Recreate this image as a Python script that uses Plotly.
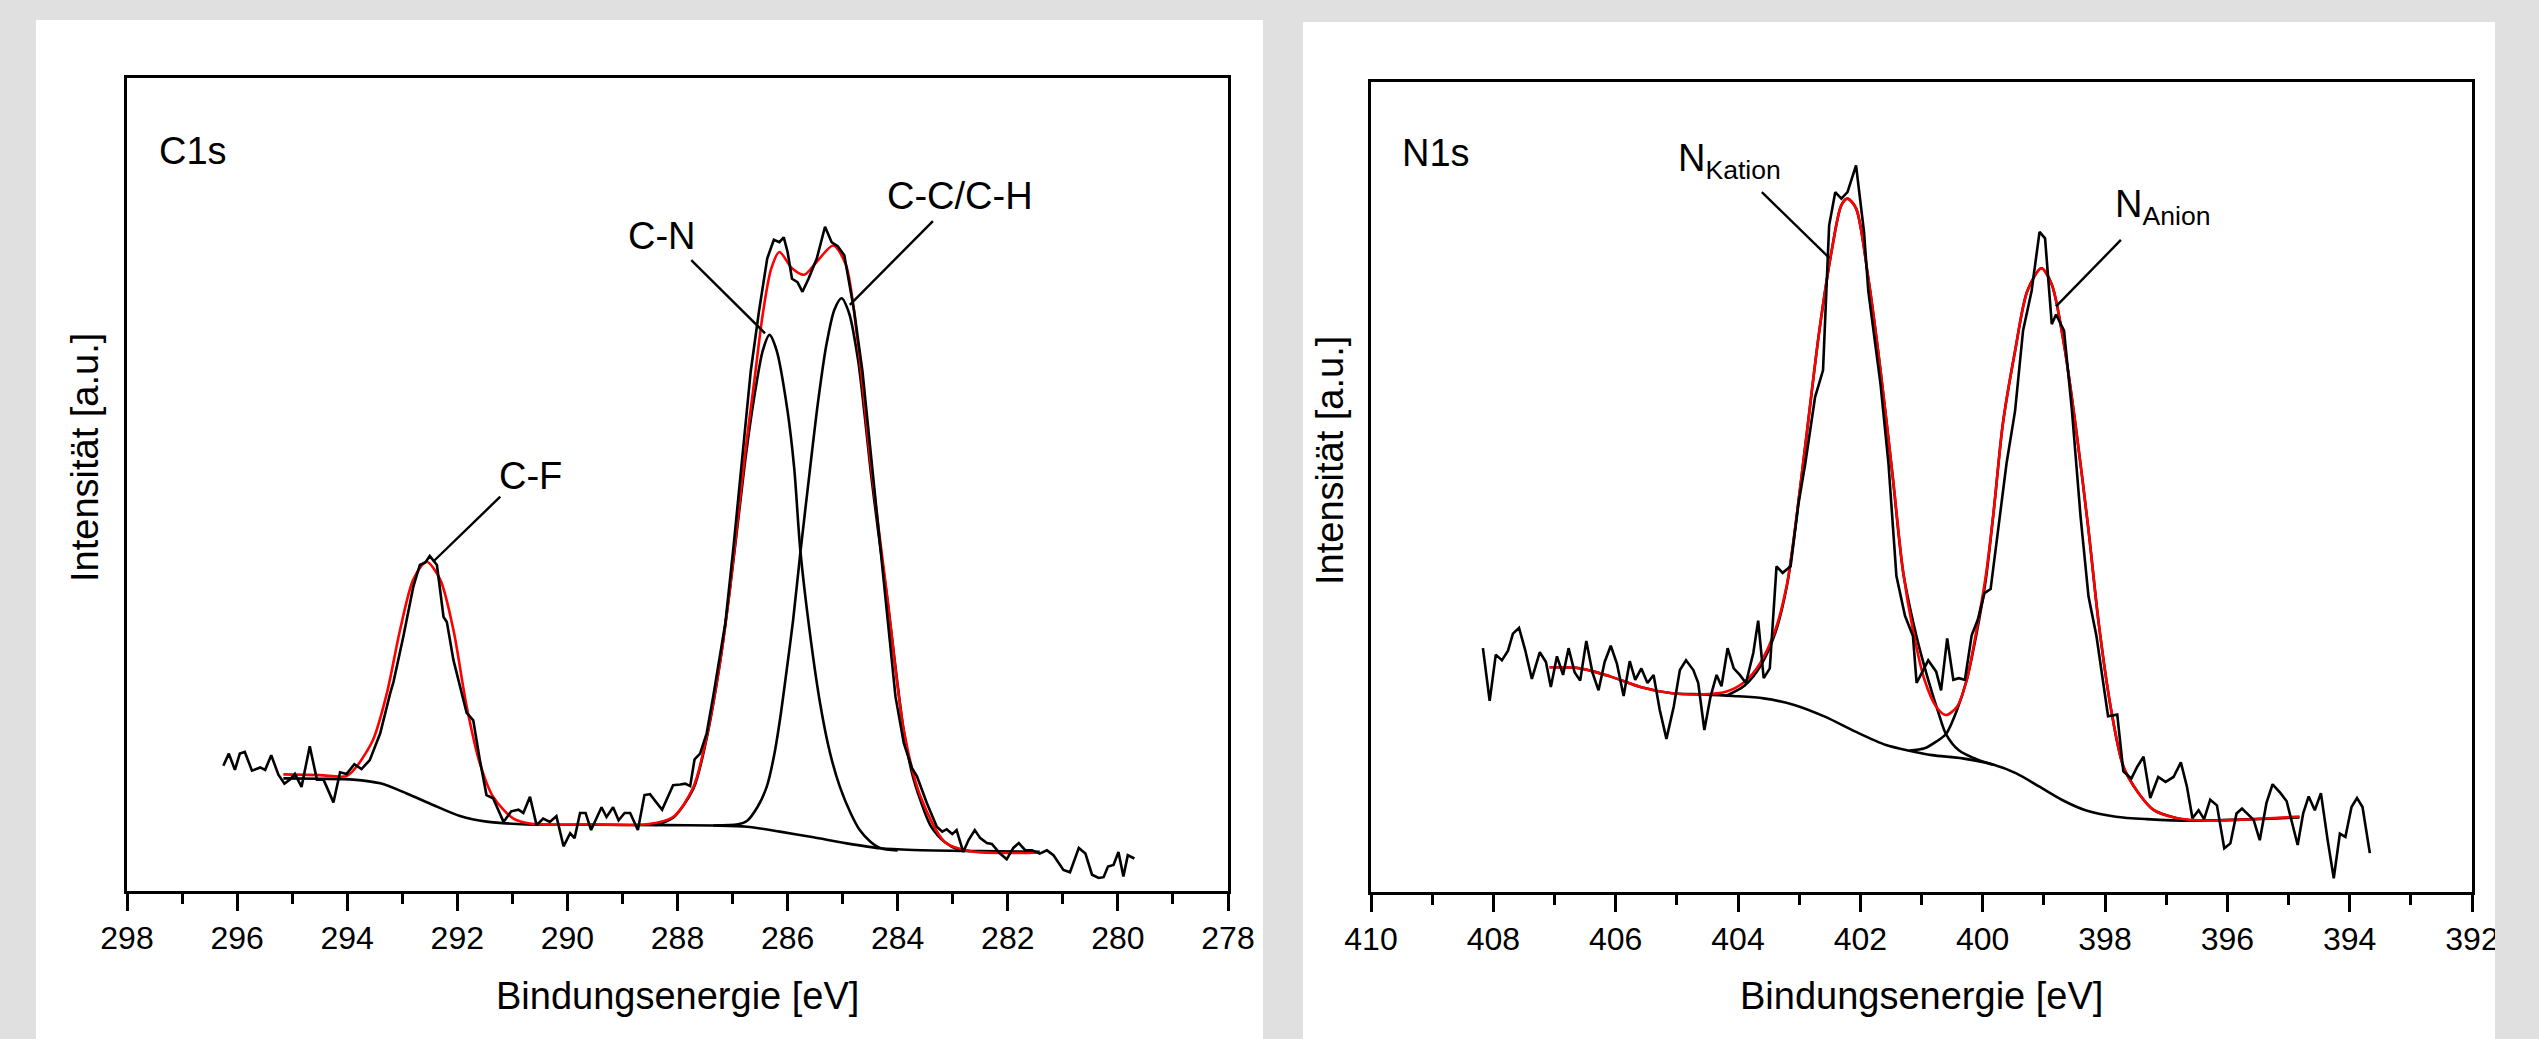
import plotly.graph_objects as go

W, H = 2539, 1039
FONT = "Liberation Sans, Arial, sans-serif"
GREY = "#e0e0e0"

# ---------------- C1s data ----------------
c1s_ticks = [298, 296, 294, 292, 290, 288, 286, 284, 282, 280, 278]
c1s_tick_text = [str(v) for v in c1s_ticks]

c1s_raw_E = [296.25, 296.15, 296.04, 295.95, 295.86, 295.73, 295.58, 295.49, 295.38, 295.25,
             295.14, 295.04, 294.95, 294.83, 294.68, 294.55, 294.43, 294.25, 294.13, 294.01,
             293.87, 293.74, 293.59, 293.40, 293.22, 293.16, 292.98, 292.80, 292.68, 292.58,
             292.50, 292.37, 292.25, 292.19, 292.07, 291.95, 291.83, 291.71, 291.59, 291.47,
             291.35, 291.16, 291.02, 290.89, 290.80, 290.68, 290.56, 290.44, 290.32, 290.20,
             290.07, 289.95, 289.87, 289.77, 289.67, 289.57, 289.38, 289.29, 289.17, 289.07,
             288.96, 288.86, 288.72, 288.60, 288.50, 288.28, 288.08, 287.95, 287.86, 287.77,
             287.69, 287.59, 287.47, 287.35, 287.23, 287.13, 286.98, 286.83, 286.67, 286.52,
             286.37, 286.25, 286.15, 286.07, 286.00, 285.92, 285.82, 285.73, 285.62, 285.47,
             285.32, 285.20, 285.09, 284.97, 284.87, 284.79, 284.64, 284.49, 284.34, 284.19,
             284.04, 283.89, 283.74, 283.65, 283.47, 283.29, 283.19, 283.11, 283.01, 282.93,
             282.81, 282.71, 282.60, 282.50, 282.38, 282.29, 282.14, 282.02, 281.90, 281.80,
             281.68, 281.56, 281.42, 281.29, 281.17, 280.99, 280.87, 280.71, 280.59, 280.47,
             280.35, 280.26, 280.18, 280.08, 279.99, 279.90, 279.82, 279.70]
c1s_raw_I = [15.4, 16.9, 14.9, 16.9, 17.1, 14.8, 15.2, 14.9, 16.7, 14.3,
             13.2, 13.7, 14.4, 12.8, 17.8, 13.7, 13.7, 10.9, 14.6, 14.4,
             15.6, 15.0, 16.1, 19.4, 24.3, 25.7, 31.3, 37.4, 40.1, 40.4,
             41.2, 40.1, 33.7, 33.1, 28.4, 25.1, 21.9, 21.0, 16.1, 11.8,
             11.4, 8.5, 9.8, 10.0, 9.6, 11.6, 8.1, 8.9, 8.5, 9.2,
             5.5, 7.1, 6.5, 9.6, 9.6, 7.5, 10.3, 9.1, 10.3, 8.7,
             9.6, 9.6, 7.5, 11.8, 11.9, 10.0, 13.0, 13.1, 13.2, 12.9,
             16.2, 16.9, 19.4, 24.0, 29.0, 33.0, 42.5, 52.5, 63.9, 71.3,
             77.8, 80.1, 79.8, 80.4, 78.6, 75.3, 74.9, 73.7, 75.3, 77.8,
             81.7, 79.8, 79.3, 78.2, 74.5, 71.3, 63.9, 54.1, 44.3, 34.5,
             23.9, 18.2, 15.1, 14.1, 10.8, 7.9, 7.3, 7.6, 7.0, 7.5,
             4.8, 6.3, 7.5, 6.5, 5.9, 5.8, 4.6, 3.9, 5.3, 5.9,
             5.0, 5.0, 4.6, 5.0, 4.4, 2.6, 2.3, 5.3, 4.6, 2.0,
             1.6, 1.7, 3.0, 3.2, 4.8, 1.8, 4.4, 4.0]

c1s_fit_E = [295.16, 294.5, 294.01, 293.83, 293.53, 293.28, 293.04, 292.80, 292.56, 292.31,
             292.07, 291.83, 291.59, 291.35, 290.98, 290.62, 289.5, 288.56, 288.08, 287.71,
             287.47, 287.23, 287.05, 286.9, 286.75, 286.6, 286.45, 286.3, 286.15, 285.92,
             285.70, 285.47, 285.17, 284.94, 284.72, 284.49, 284.19, 283.89, 283.59, 283.14,
             282.68, 281.48]
c1s_fit_I = [14.35, 14.25, 14.14, 15.3, 18.6, 24.3, 32.1, 38.3, 40.5, 38.3,
             32.1, 22.7, 15.7, 11.6, 8.9, 8.24, 8.2, 8.2, 9.1, 12.8,
             19.0, 28.0, 37.0, 46.0, 55.0, 63.0, 71.0, 76.5, 78.6, 76.6,
             75.8, 77.4, 79.4, 77.0, 67.2, 52.5, 36.2, 19.8, 11.7, 6.0,
             4.9, 4.7]

c1s_bg_E = [295.16, 294.5, 293.89, 293.4, 292.92, 292.44, 291.95, 291.47, 290.74, 289.5,
            288.2, 287.35, 286.74, 286.14, 285.53, 284.93, 284.32, 283.72, 282.5, 281.42]
c1s_bg_I = [13.85, 13.8, 13.7, 13.24, 12.0, 10.58, 9.22, 8.53, 8.2, 8.15,
            8.1, 8.05, 7.91, 7.3, 6.6, 5.86, 5.25, 5.04, 4.9, 4.83]

c1s_cn_E = [288.4, 288.08, 287.71, 287.47, 287.23, 287.05, 286.9, 286.75, 286.6, 286.45,
            286.33, 286.2, 286.0, 285.88, 285.77, 285.6, 285.41, 285.23, 285.05, 284.85,
            284.69, 284.5, 284.32, 284.0]
c1s_cn_I = [8.1, 9.0, 12.6, 18.8, 28.0, 37.0, 45.5, 54.0, 61.0, 66.5,
            68.4, 66.5, 59.0, 52.0, 42.0, 32.0, 23.1, 17.0, 12.8, 9.5,
            7.5, 6.1, 5.3, 5.0]

c1s_cc_E = [287.35, 286.9, 286.74, 286.55, 286.38, 286.25, 286.14, 286.02, 285.9, 285.77,
            285.6, 285.45, 285.3, 285.15, 285.02, 284.88, 284.72, 284.6, 284.49, 284.35,
            284.19, 284.04, 283.89, 283.74, 283.59, 283.4, 283.14, 282.9, 282.68]
c1s_cc_I = [8.05, 8.2, 8.6, 10.3, 12.8, 16.5, 21.0, 27.0, 33.3, 41.5,
            51.5, 60.0, 67.0, 71.5, 72.9, 71.0, 65.3, 58.5, 51.6, 44.0,
            36.0, 27.5, 19.7, 14.5, 11.2, 8.0, 6.0, 5.1, 4.9]

# ---------------- N1s data ----------------
n1s_ticks = [410, 408, 406, 404, 402, 400, 398, 396, 394, 392]
n1s_tick_text = [str(v) for v in n1s_ticks]

n1s_raw_E = [408.17, 408.06, 407.96, 407.86, 407.76, 407.68, 407.58, 407.48, 407.37, 407.24,
             407.14, 407.06, 406.96, 406.86, 406.77, 406.67, 406.58, 406.48, 406.38, 406.28,
             406.18, 406.08, 405.98, 405.87, 405.77, 405.68, 405.58, 405.48, 405.38, 405.28,
             405.17, 405.05, 404.95, 404.85, 404.73, 404.65, 404.55, 404.45, 404.35, 404.27,
             404.17, 404.07, 403.97, 403.87, 403.75, 403.67, 403.58, 403.48,
             403.37, 403.27, 403.14, 403.01, 402.90, 402.74, 402.61, 402.51, 402.41, 402.31,
             402.21, 402.07, 401.94, 401.87, 401.67, 401.54, 401.41, 401.27, 401.14,
             401.08, 400.89, 400.76, 400.68, 400.58, 400.48, 400.39, 400.29, 400.18, 400.08,
             399.97,
             399.87, 399.74, 399.61, 399.47, 399.34, 399.20, 399.07, 398.98, 398.87, 398.80,
             398.67, 398.54, 398.40, 398.27, 398.14,
             397.95, 397.80, 397.70, 397.57, 397.47, 397.37, 397.26, 397.13, 397.01, 396.88,
             396.76, 396.66, 396.57, 396.47, 396.38, 396.28, 396.17, 396.05, 395.95, 395.85,
             395.76, 395.66, 395.57, 395.47, 395.36, 395.26, 395.13, 395.03, 394.95, 394.85,
             394.76, 394.67, 394.57, 394.47, 394.36, 394.26, 394.16, 394.07, 393.97, 393.88,
             393.79, 393.67]
n1s_raw_I = [30.1, 23.6, 29.3, 28.6, 29.8, 31.9, 32.6, 29.9, 26.3, 29.6,
             28.4, 25.3, 29.1, 26.8, 30.1, 27.1, 26.1, 31.0, 27.1, 24.9,
             28.4, 30.4, 28.2, 24.2, 28.5, 26.2, 27.6, 25.8, 26.8, 22.5,
             18.9, 22.9, 27.4, 28.6, 27.4, 25.8, 20.0, 24.1, 26.8, 25.4,
             30.1, 27.6, 26.8, 25.8, 29.5, 33.5, 26.4, 27.6,
             40.2, 39.4, 40.2, 48.0, 52.9, 61.1, 64.4, 82.3, 86.4, 85.6,
             86.4, 89.7, 81.5, 74.2, 62.7, 52.9, 39.0, 34.1, 31.6,
             25.8, 28.6, 27.2, 24.9, 31.3, 26.2, 26.4, 26.2, 31.7, 33.6,
             36.9,
             37.4, 45.5, 52.9, 59.4, 69.3, 74.2, 81.5, 80.7, 70.1, 71.3,
             69.3, 59.4, 46.4, 36.5, 31.6,
             21.7, 21.9, 14.9, 14.0, 15.5, 16.7, 11.6, 14.2, 13.6, 14.2,
             16.0, 13.0, 9.1, 10.1, 9.0, 11.4, 10.7, 5.4, 6.0, 9.7,
             10.3, 9.5, 8.9, 6.4, 11.0, 13.3, 12.2, 11.2, 8.9, 5.8,
             9.7, 11.8, 10.1, 12.2, 6.4, 1.7, 7.2, 6.8, 10.5, 11.6,
             10.5, 4.8]

n1s_fit_E = [407.08, 406.58, 406.08, 405.58, 405.08, 404.58, 404.20, 403.89, 403.64, 403.39,
             403.2, 403.07, 402.87, 402.67, 402.47, 402.31, 402.21, 402.07, 401.87, 401.67,
             401.47, 401.3, 401.14, 400.95, 400.76, 400.60, 400.42, 400.26, 400.10, 399.95,
             399.82, 399.67, 399.47, 399.27, 399.04, 398.87, 398.67, 398.47, 398.27, 398.1,
             397.9, 397.70, 397.45, 397.20, 396.82, 396.32, 395.82, 395.32, 394.82]
n1s_fit_I = [27.74, 27.61, 26.59, 25.27, 24.53, 24.40, 24.73, 25.97, 28.23, 32.35,
             38.0, 44.7, 57.0, 69.3, 79.1, 84.8, 85.6, 84.4, 75.8, 64.4,
             51.3, 39.5, 32.35, 26.17, 22.88, 21.85, 22.88, 26.17, 32.35, 39.0,
             47.0, 57.8, 66.8, 74.2, 77.0, 75.0, 67.6, 57.0, 44.7, 33.0,
             22.5, 15.5, 12.2, 10.1, 9.1, 8.8, 8.9, 9.1, 9.3]

n1s_bg_E = [407.08, 406.58, 406.08, 405.58, 405.08, 404.58, 404.08, 403.58, 403.08, 402.58,
            402.08, 401.58, 401.2, 400.83, 400.33, 399.82, 399.45, 399.07, 398.70, 398.32,
            397.82, 397.32, 396.57, 394.82]
n1s_bg_I = [27.74, 27.61, 26.59, 25.27, 24.53, 24.40, 24.2, 23.9, 23.1, 21.65,
            19.8, 18.15, 17.45, 16.9, 16.5, 15.7, 14.65, 13.0, 11.36, 10.1,
            9.3, 9.0, 8.8, 9.2]

n1s_kat_E = [404.2, 403.89, 403.64, 403.39, 403.2, 403.07, 402.87, 402.67, 402.47, 402.31,
             402.21, 402.07, 401.87, 401.67, 401.47, 401.3, 401.08, 400.89, 400.72, 400.60,
             400.39, 400.07, 399.82]
n1s_kat_I = [24.2, 25.5, 27.8, 32.0, 37.8, 44.6, 57.0, 69.3, 79.1, 84.8,
             85.6, 84.4, 75.8, 64.4, 51.2, 39.5, 31.5, 26.2, 22.06, 19.5,
             17.5, 16.3, 15.7]

n1s_an_E = [401.2, 400.95, 400.76, 400.60, 400.42, 400.26, 400.10, 399.95, 399.82, 399.67,
            399.47, 399.27, 399.04, 398.87, 398.67, 398.47, 398.27, 398.1, 397.9, 397.70,
            397.45, 397.20, 396.82, 396.57]
n1s_an_I = [17.45, 17.74, 18.56, 19.5, 22.47, 26.2, 31.9, 38.5, 47.0, 57.8,
            66.8, 74.2, 77.0, 75.0, 67.6, 57.0, 44.7, 33.0, 22.5, 15.5,
            12.2, 10.1, 9.1, 8.8]

# peak labels and leader lines (data coordinates: from label end to peak)
c1s_labels = ["C-F", "C-N", "C-C/C-H"]
c1s_leader_from = [(291.22, 48.5), (287.75, 77.6), (283.36, 82.4)]
c1s_leader_to = [(292.44, 40.5), (286.41, 68.6), (284.87, 72.1)]
n1s_labels = ["N<sub>Kation</sub>", "N<sub>Anion</sub>"]
n1s_leader_from = [(403.61, 86.4), (397.74, 80.5)]
n1s_leader_to = [(402.51, 78.3), (398.80, 72.3)]


def px(x):
    return x / W


def py(y):
    return (H - y) / H


fig = go.Figure()


def smooth(xs, ys, color, xa, ya, width=2.6):
    fig.add_trace(go.Scatter(x=xs, y=ys, mode="lines", xaxis=xa, yaxis=ya,
                             line=dict(color=color, width=width, shape="spline", smoothing=0.8),
                             hoverinfo="skip", showlegend=False))


def raw(xs, ys, xa, ya):
    fig.add_trace(go.Scatter(x=xs, y=ys, mode="lines", xaxis=xa, yaxis=ya,
                             line=dict(color="black", width=2.6),
                             hoverinfo="skip", showlegend=False))


# C1s
smooth(c1s_bg_E, c1s_bg_I, "black", "x", "y")
smooth(c1s_cn_E, c1s_cn_I, "black", "x", "y")
smooth(c1s_cc_E, c1s_cc_I, "black", "x", "y")
smooth(c1s_fit_E, c1s_fit_I, "#ff0000", "x", "y")
raw(c1s_raw_E, c1s_raw_I, "x", "y")

# N1s
smooth(n1s_bg_E, n1s_bg_I, "black", "x2", "y2")
smooth(n1s_kat_E, n1s_kat_I, "black", "x2", "y2")
smooth(n1s_an_E, n1s_an_I, "black", "x2", "y2")
smooth(n1s_fit_E, n1s_fit_I, "#ff0000", "x2", "y2")
raw(n1s_raw_E, n1s_raw_I, "x2", "y2")

tickfont = dict(family=FONT, size=32, color="black")


def xaxis_cfg(domain, rng, ticks, ticktext, anchor):
    return dict(domain=domain, range=rng, anchor=anchor, automargin=False,
                tickmode="array", tickvals=ticks, ticktext=ticktext,
                ticks="outside", ticklen=17, tickwidth=2.5, tickcolor="black",
                minor=dict(dtick=1, ticks="outside", ticklen=10, tickwidth=2.5,
                           tickcolor="black", showgrid=False),
                showline=True, linecolor="black", linewidth=3, mirror=True,
                showgrid=False, zeroline=False, tickfont=tickfont)


def yaxis_cfg(domain, anchor):
    return dict(domain=domain, range=[0, 100], anchor=anchor, automargin=False,
                showticklabels=False, ticks="",
                showline=True, linecolor="black", linewidth=3, mirror=True,
                showgrid=False, zeroline=False)


shapes = [
    dict(type="rect", xref="paper", yref="paper", x0=px(36), x1=px(1263), y0=0, y1=py(20),
         fillcolor="white", line=dict(width=0), layer="below"),
    dict(type="rect", xref="paper", yref="paper", x0=px(1303), x1=px(2495), y0=0, y1=py(22),
         fillcolor="white", line=dict(width=0), layer="below"),
    dict(type="rect", xref="paper", yref="paper", x0=px(2495), x1=1, y0=0, y1=1,
         fillcolor=GREY, line=dict(width=0), layer="above"),
]
for (x0, y0), (x1, y1) in zip(c1s_leader_from, c1s_leader_to):
    shapes.append(dict(type="line", xref="x", yref="y", x0=x0, y0=y0, x1=x1, y1=y1,
                       line=dict(color="black", width=2.4)))
for (x0, y0), (x1, y1) in zip(n1s_leader_from, n1s_leader_to):
    shapes.append(dict(type="line", xref="x2", yref="y2", x0=x0, y0=y0, x1=x1, y1=y1,
                       line=dict(color="black", width=2.4)))

lab_font = dict(family=FONT, size=38, color="black")


def ann(text, x, y, xanchor="center", yanchor="top", angle=0):
    return dict(text=text, x=px(x), y=py(y), xref="paper", yref="paper",
                xanchor=xanchor, yanchor=yanchor, showarrow=False, textangle=angle,
                font=lab_font)


annotations = [
    ann("C1s", 157, 128, "left"),
    ann(c1s_labels[0], 530.5, 453),
    ann(c1s_labels[1], 661.5, 213),
    ann(c1s_labels[2], 959.5, 173),
    ann("N1s", 1400, 130, "left"),
    ann(n1s_labels[0], 1676, 135, "left"),
    ann(n1s_labels[1], 2113, 181, "left"),
    ann("Bindungsenergie [eV]", 677.5, 996, "center", "middle"),
    ann("Bindungsenergie [eV]", 1921.5, 996, "center", "middle"),
    ann("Intensität [a.u.]", 85, 457, "center", "middle", -90),
    ann("Intensität [a.u.]", 1330, 460, "center", "middle", -90),
]

fig.update_layout(
    width=W, height=H, autosize=False,
    margin=dict(l=0, r=0, t=0, b=0, pad=0, autoexpand=False),
    paper_bgcolor=GREY, plot_bgcolor="white",
    font=dict(family=FONT, color="black"),
    showlegend=False,
    xaxis=xaxis_cfg([px(127), px(1228)], [298, 278], c1s_ticks, c1s_tick_text, "y"),
    yaxis=yaxis_cfg([py(891), py(78)], "x"),
    xaxis2=xaxis_cfg([px(1371), px(2472)], [410, 392], n1s_ticks, n1s_tick_text, "y2"),
    yaxis2=yaxis_cfg([py(892), py(82)], "x2"),
    shapes=shapes,
    annotations=annotations,
)

fig.write_html(
    "out.html",
    config={"displayModeBar": False, "responsive": False},
    post_script="document.body.style.margin='0';document.body.style.padding='0';"
                "document.body.style.overflow='hidden';"
                "document.body.style.background='" + GREY + "';",
)
